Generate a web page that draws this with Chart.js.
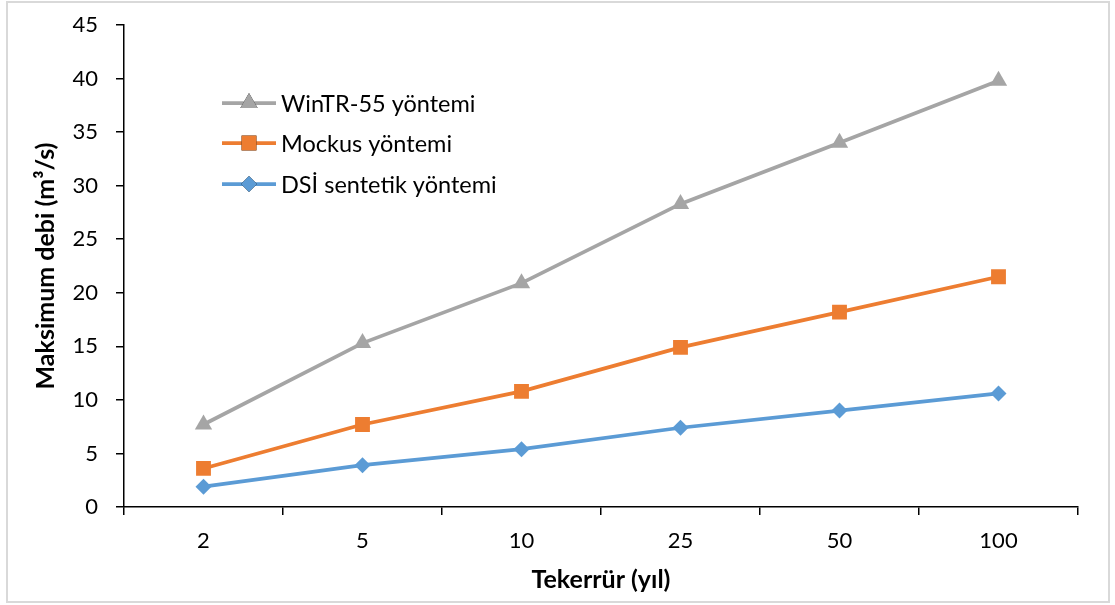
<!DOCTYPE html>
<html>
<head>
<meta charset="utf-8">
<script src="https://cdn.jsdelivr.net/npm/chart.js@4.4.1/dist/chart.umd.min.js"></script>
<style>
html,body{margin:0;padding:0;background:#fff;}
#wrap{position:relative;width:1115px;height:605px;}
</style>
</head>
<body>
<div id="wrap"><canvas id="c" width="1115" height="605"></canvas></div>
<script>
const categories = ['2', '5', '10', '25', '50', '100'];
const winTR55 = [7.7, 15.3, 20.9, 28.3, 34.0, 39.8];
const mockus = [3.6, 7.7, 10.8, 14.9, 18.2, 21.5];
const dsi = [1.9, 3.9, 5.4, 7.4, 9.0, 10.6];
const seriesNames = ['WinTR-55 yöntemi', 'Mockus yöntemi', 'DSİ sentetik yöntemi'];
const yTitle = 'Maksimum debi (m³/s)';
const xTitle = 'Tekerrür (yıl)';

const FONT = 'Lato, "Open Sans", sans-serif';

const frame = {
  id: 'frame',
  beforeDraw(chart) {
    const ctx = chart.ctx;
    ctx.save();
    ctx.fillStyle = '#fff';
    ctx.fillRect(0, 0, chart.width, chart.height);
    ctx.strokeStyle = '#D9D9D9';
    ctx.lineWidth = 2;
    ctx.strokeRect(7, 2, 1102, 600);
    ctx.restore();
  }
};

const customLegend = {
  id: 'customLegend',
  afterDraw(chart) {
    const ctx = chart.ctx;
    const rows = [103, 143, 184];
    ctx.save();
    chart.data.datasets.forEach((ds, i) => {
      const y = rows[i];
      ctx.strokeStyle = ds.borderColor;
      ctx.lineWidth = ds.borderWidth;
      ctx.beginPath();
      ctx.moveTo(222, y);
      ctx.lineTo(276, y);
      ctx.stroke();
      Chart.helpers.drawPoint(ctx, {
        pointStyle: ds.pointStyle,
        radius: ds.pointRadius,
        borderWidth: 0
      }, 249, y);
      ctx.fillStyle = ds.pointBackgroundColor;
      ctx.fill();
      ctx.fillStyle = '#000';
      ctx.font = '23.5px ' + FONT;
      ctx.textBaseline = 'middle';
      ctx.textAlign = 'left';
      ctx.fillText(ds.label, 281, y + 1);
    });
    ctx.restore();
  }
};

function mkDs(label, data, color, style, r) {
  return {
    label, data,
    borderColor: color,
    backgroundColor: color,
    pointBackgroundColor: color,
    pointBorderColor: color,
    pointBorderWidth: 0,
    pointStyle: style,
    pointRadius: r,
    pointHoverRadius: r,
    borderWidth: 3.75,
    tension: 0,
    fill: false
  };
}

new Chart(document.getElementById('c'), {
  type: 'line',
  data: {
    labels: categories,
    datasets: [
      mkDs(seriesNames[0], winTR55, '#A5A5A5', 'triangle', 10),
      mkDs(seriesNames[1], mockus, '#ED7D31', 'rect', 10.5),
      mkDs(seriesNames[2], dsi, '#5B9BD5', 'rectRot', 8)
    ]
  },
  options: {
    responsive: false,
    animation: false,
    events: [],
    layout: { padding: { left: 0, right: 37, top: 14, bottom: 0 } },
    plugins: { legend: { display: false }, tooltip: { enabled: false } },
    scales: {
      x: {
        offset: true,
        grid: { offset: true, drawOnChartArea: false, drawTicks: true, tickLength: 8, color: '#000', lineWidth: 1.5 },
        border: { color: '#000', width: 1.5 },
        ticks: { color: '#000', font: { family: FONT, size: 22 }, padding: 13, maxRotation: 0 },
        title: { display: true, text: xTitle, color: '#000', font: { family: FONT, size: 25, weight: 'bold' }, padding: { top: 0, bottom: 10 } },
        afterFit(s) { s.height = 98; }
      },
      y: {
        min: 0, max: 45,
        ticks: { stepSize: 5, color: '#000', font: { family: FONT, size: 22, lineHeight: '14px' }, padding: 18 },
        grid: { drawOnChartArea: false, drawTicks: true, tickLength: 8, color: '#000', lineWidth: 1.5 },
        border: { color: '#000', width: 1.5 },
        title: { display: true, text: yTitle, color: '#000', font: { family: FONT, size: 25, weight: 'bold' }, padding: { top: 31, bottom: 0 } },
        afterFit(s) { s.width = 124; }
      }
    }
  },
  plugins: [frame, customLegend]
});
</script>
</body>
</html>
